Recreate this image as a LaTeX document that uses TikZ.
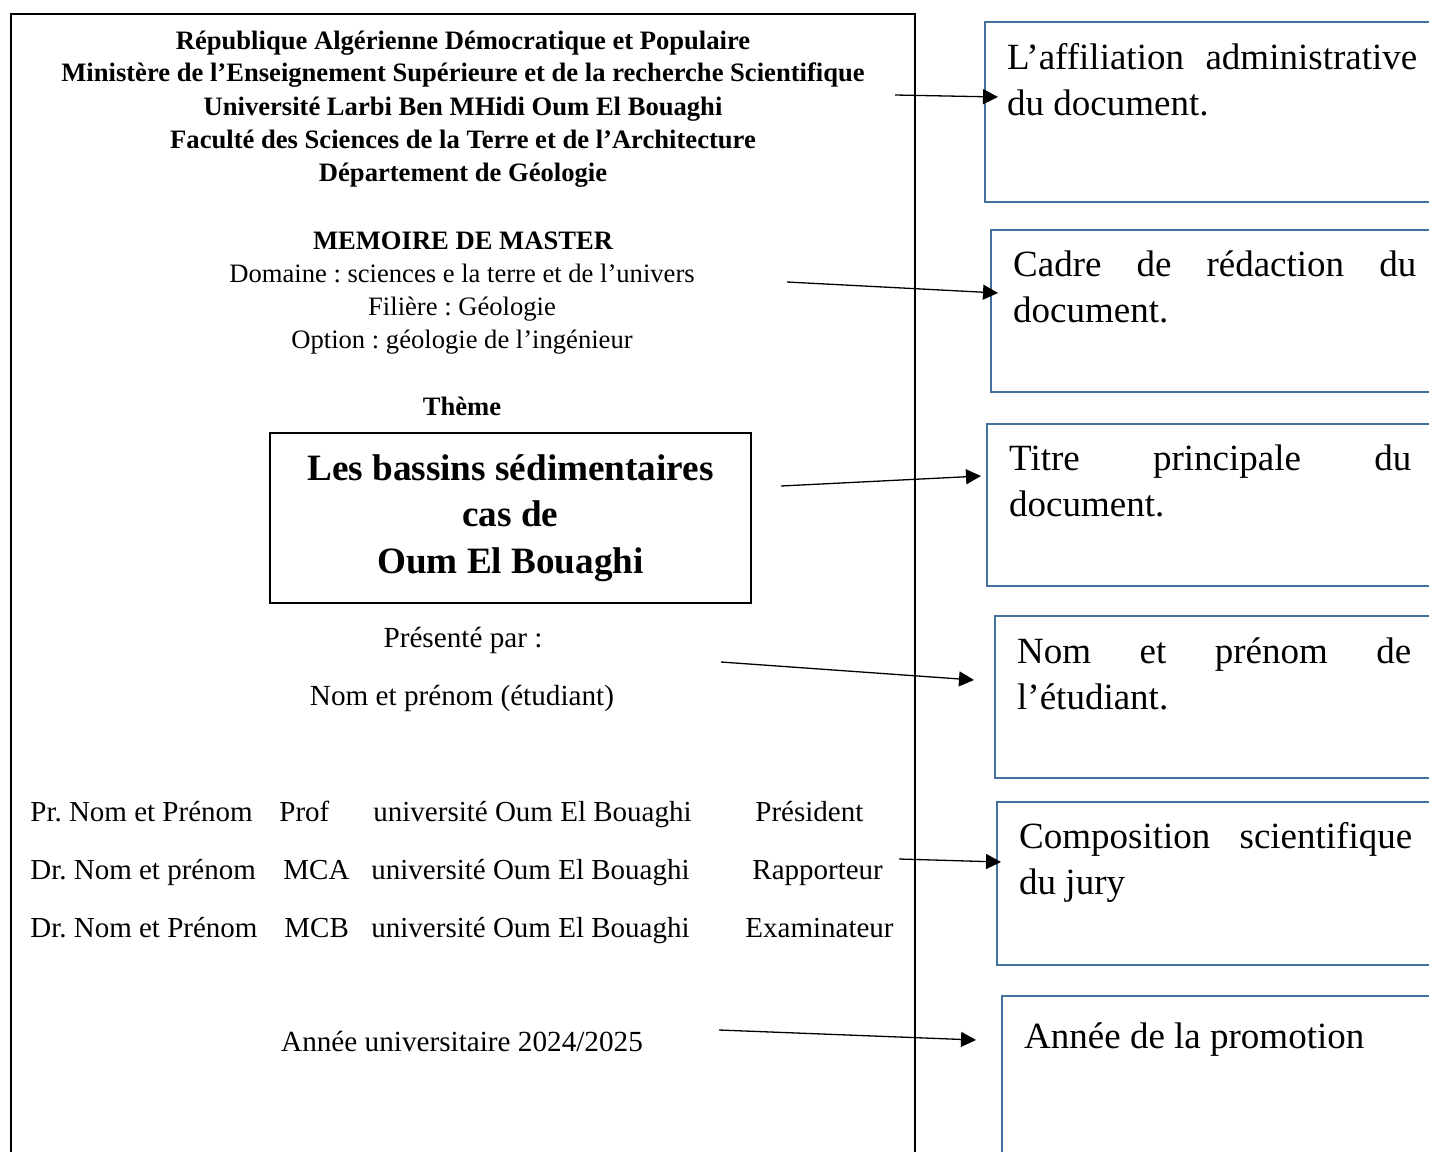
\documentclass[tikz,border=0pt]{standalone}
\usepackage{fontspec}
\setmainfont{Liberation Serif}
\usepackage{xcolor}
\usetikzlibrary{arrows.meta}
\definecolor{boxblue}{RGB}{65,113,156}
\frenchspacing
\hyphenpenalty=10000
\exhyphenpenalty=10000

\begin{document}
\begin{tikzpicture}[x=0.5pt,y=-0.5pt,
    hdr/.style={font=\bfseries\fontsize{13.3}{16}\selectfont,anchor=base},
    txt/.style={font=\fontsize{13.3}{16}\selectfont,anchor=base},
    big/.style={font=\fontsize{14.6}{17}\selectfont,anchor=base},
    jury/.style={font=\fontsize{14.5}{17}\selectfont,anchor=base west,inner xsep=0pt},
    ttl/.style={draw,line width=1pt,font=\bfseries\fontsize{18.6}{23.25}\selectfont,align=center,minimum width=240.5pt,minimum height=85pt},
    note/.style={draw=boxblue,line width=1.2pt,font=\fontsize{18.5}{23}\selectfont,align=justify,anchor=base west,inner ysep=0pt,inner xsep=11pt},
    arr/.style={-{Triangle[length=7.5pt,width=7.5pt]},line width=0.65pt}]
            \useasboundingbox (0,0) rectangle (1429,1151);
            \clip (0,0) rectangle (1429,1151);
            % page
            \draw[line width=1pt] (11,1200) -- (11,14) -- (915,14) -- (915,1200);
            \node[hdr] (rep) at (463,49) {République Algérienne Démocratique et Populaire};
            \node[hdr] (min) at (463,81) {Ministère de l’Enseignement Supérieure et de la recherche Scientifique};
            \node[hdr] (univ) at (463,115) {Université Larbi Ben MHidi Oum El Bouaghi};
            \node[hdr] (fac) at (463,148) {Faculté des Sciences de la Terre et de l’Architecture};
            \node[hdr] (dep) at (463,181) {Département de Géologie};
            \node[hdr] (memo) at (463,249) {MEMOIRE DE MASTER};
            \node[txt] (dom) at (462,282) {Domaine : sciences e la terre et de l’univers};
            \node[txt] (fil) at (462,315) {Filière : Géologie};
            \node[txt] (opt) at (462,348) {Option : géologie de l’ingénieur};
            \node[hdr] (theme) at (462,415) {Thème};
            \node[ttl] (titre) at (510.5,518) {Les bassins sédimentaires\\cas de\\Oum El Bouaghi};
            \node[big] (pres) at (463,647) {Présenté par :};
            \node[big] (etud) at (462,705) {Nom et prénom (étudiant)};
            % jury
            \foreach \nm/\gr/\rl/\gx/\ux/\rx/\y [count=\i] in {Pr. Nom et Prénom/Prof/Président/279/373/755/821,
                Dr. Nom et prénom/MCA/Rapporteur/283/371/752/879,
                Dr. Nom et Prénom/MCB/Examinateur/284/371/745/937}{
                \node[jury] (nom\i) at (30,\y) {\nm};
                \node[jury] (grade\i) at (\gx,\y) {\gr};
                \node[jury] (univ\i) at (\ux,\y) {université Oum El Bouaghi};
                \node[jury] (role\i) at (\rx,\y) {\rl};
            }
            \node[big] (annee) at (462,1051) {Année universitaire 2024/2025};
            % notes
            \node[note,text width=205pt,text height=23.5pt,text depth=66.5pt] (affil) at (984,69) {L’affiliation administrative\linebreak du document.};
            \node[note,text width=201.5pt,text height=23pt,text depth=58pt] (cadre) at (990,276) {Cadre de rédaction du\linebreak document.};
            \node[note,text width=201pt,text height=23pt,text depth=58pt] (titrep) at (986,470) {Titre principale du\linebreak document.};
            \node[note,text width=197pt,text height=23.5pt,text depth=57.5pt] (nomp) at (994,663) {Nom et prénom de\linebreak l’étudiant.};
            \node[note,text width=196.5pt,text height=23pt,text depth=58.5pt] (compo) at (996,848) {Composition scientifique\linebreak du jury};
            \node[note,text width=200pt,text height=26pt,text depth=80pt] (promo) at (1001,1048) {Année de la promotion};
            % arrows
            \coordinate (s1) at (895,95);
            \coordinate (e1) at (998,97);
            \coordinate (s2) at (787,282);
            \coordinate (e2) at (998,293);
            \coordinate (s3) at (781,486);
            \coordinate (e3) at (981,476);
            \coordinate (s4) at (721,662);
            \coordinate (e4) at (974,680);
            \coordinate (s5) at (899,859);
            \coordinate (e5) at (1001,862);
            \coordinate (s6) at (719,1030);
            \coordinate (e6) at (976,1040);
            \foreach \i in {1,...,6}
                \draw[arr] (s\i) -- (e\i);
        \end{tikzpicture}
\end{document}
